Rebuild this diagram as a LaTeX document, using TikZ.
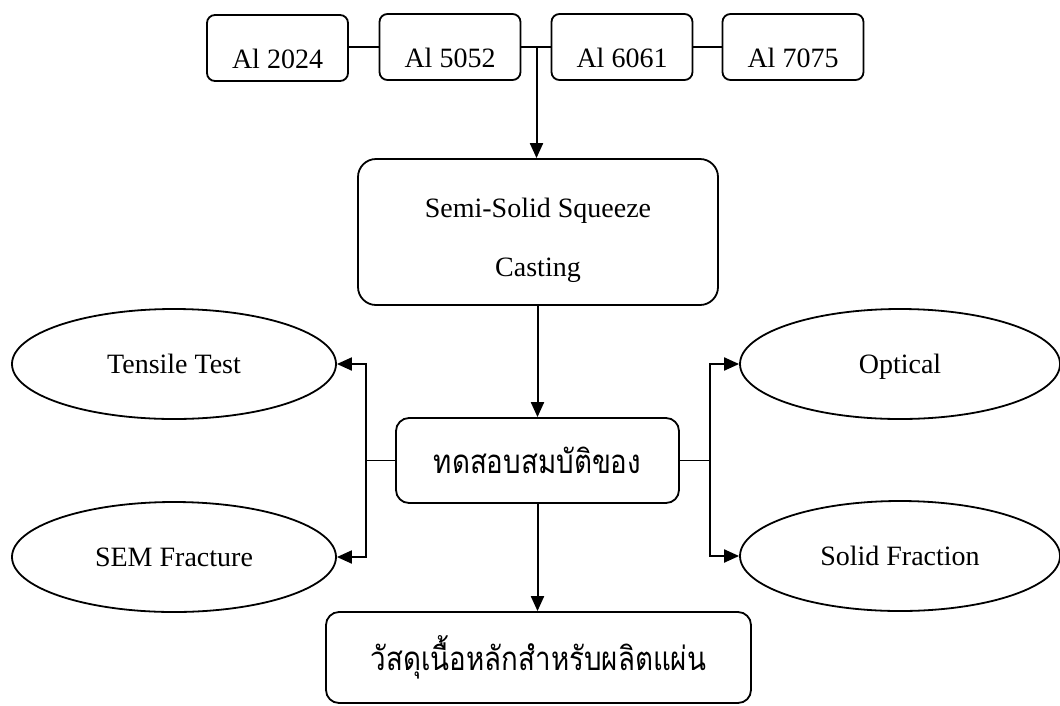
\documentclass[tikz,border=0pt]{standalone}
\usepackage{fontspec}
\setmainfont{Liberation Serif}
\newfontfamily\thaifont[Script=Thai,FakeStretch=0.84]{Loma}
\usetikzlibrary{shapes.geometric,arrows.meta}
\begin{document}
\begin{tikzpicture}[x=1pt,y=-1pt,
  box/.style={draw,line width=1.8pt,rounded corners=8pt,minimum width=141pt,minimum height=66pt,inner sep=0pt,text height=41pt,text depth=0pt,font=\fontsize{28}{34}\selectfont},
  bigbox/.style={draw,line width=1.8pt,inner sep=0pt,align=center},
  ell/.style={draw,ellipse,line width=1.8pt,minimum width=324pt,minimum height=110pt,inner sep=0pt,text height=19.5pt,text depth=0pt,font=\fontsize{28}{34}\selectfont},
  arr/.style={line width=2pt,-{Triangle[length=15pt,width=13pt]}},
  ln/.style={line width=1.5pt}]
\useasboundingbox (0,0) rectangle (1060,705);
% top row
\node[box] (a1) at (277.5,48) {Al 2024};
\node[box] (a2) at (450,47) {Al 5052};
\node[box] (a3) at (622,47) {Al 6061};
\node[box] (a4) at (793,47) {Al 7075};
\draw[ln] (a1.east |- a2.west) -- (a2.west);
\draw[ln] (a2.east) -- (a3.west);
\draw[ln] (a3.east) -- (a4.west);
\coordinate (j) at (536.5,47);
% process
\node[bigbox,rounded corners=18pt,minimum width=360pt,minimum height=146pt,text height=94pt,text depth=6pt,font=\fontsize{28}{59}\selectfont] (semi) at (538,232) {Semi-Solid Squeeze\\Casting};
\draw[arr] (j) -- (j |- semi.north);
\node[bigbox,rounded corners=13pt,minimum width=283pt,minimum height=85pt,font=\thaifont\fontsize{33}{40}\selectfont] (test) at (537.5,460.5) {ทดสอบสมบัติของ};
\draw[arr] (semi.south -| test.north) -- (test.north);
\node[bigbox,rounded corners=13pt,minimum width=425pt,minimum height=91pt,font=\thaifont\fontsize{33}{40}\selectfont] (mat) at (538.5,657.5) {วัสดุเนื้อหลักสำหรับผลิตแผ่น};
\draw[arr] (test.south) -- (test.south |- mat.north);
% ellipses
\node[ell] (tens) at (174,364) {Tensile Test};
\node[ell] (sem) at (174,557) {SEM Fracture};
\node[ell,minimum width=320pt] (opt) at (900,364) {Optical};
\node[ell,minimum width=320pt] (sol) at (900,556) {Solid Fraction};
% brackets
\coordinate (bl) at ([xshift=-29pt]test.west);
\coordinate (br) at ([xshift=30pt]test.east);
\draw[ln] (test.west) -- (bl);
\draw[ln] (test.east) -- (br);
\draw[arr] (bl) |- (tens.east);
\draw[arr] (bl) |- (sem.east);
\draw[arr] (br) |- (opt.west);
\draw[arr] (br) |- (sol.west);
\end{tikzpicture}
\end{document}
